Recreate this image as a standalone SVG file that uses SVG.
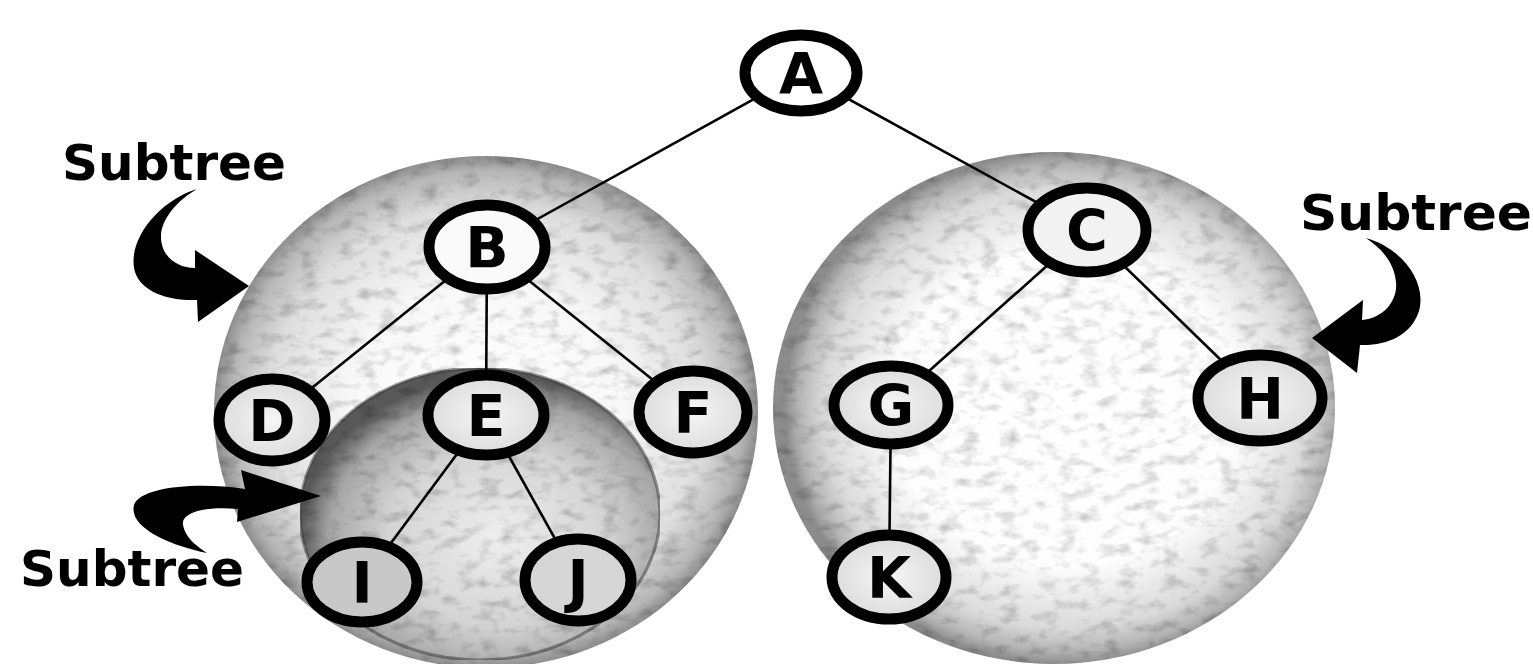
<svg xmlns="http://www.w3.org/2000/svg" width="1533" height="664" viewBox="0 0 1533 664">
<style>
.node ellipse{stroke:#000;stroke-width:11}
.node text{font-family:"DejaVu Sans","Liberation Sans",sans-serif;font-weight:bold;font-size:57px;text-anchor:middle;fill:#000}
.lbl{font-family:"DejaVu Sans","Liberation Sans",sans-serif;font-weight:bold;font-size:50px;fill:#000}
.edge{stroke:#000;stroke-width:2.6;fill:none}
.arrow{fill:#000}
</style>
<defs>
<radialGradient id="gBig" cx="50%" cy="50%" r="50%">
<stop offset="0" stop-color="#ffffff"/>
<stop offset="0.5" stop-color="#f8f8f8"/>
<stop offset="0.8" stop-color="#dedede"/>
<stop offset="0.94" stop-color="#b6b6b6"/>
<stop offset="1" stop-color="#8e8e8e"/>
</radialGradient>
<radialGradient id="gRight" cx="52%" cy="50%" r="50%">
<stop offset="0" stop-color="#ffffff"/>
<stop offset="0.62" stop-color="#fdfdfd"/>
<stop offset="0.86" stop-color="#dadada"/>
<stop offset="0.95" stop-color="#b4b4b4"/>
<stop offset="1" stop-color="#8c8c8c"/>
</radialGradient>
<radialGradient id="gInner" cx="55%" cy="58%" r="55%">
<stop offset="0" stop-color="#efefef"/>
<stop offset="0.55" stop-color="#d4d4d4"/>
<stop offset="0.85" stop-color="#a6a6a6"/>
<stop offset="1" stop-color="#585858"/>
</radialGradient>
<radialGradient id="gNode" cx="50%" cy="50%" r="50%">
<stop offset="0" stop-color="#f6f6f6"/>
<stop offset="1" stop-color="#dcdcdc"/>
</radialGradient>
<filter id="mottle" x="0" y="0" width="100%" height="100%">
<feTurbulence type="fractalNoise" baseFrequency="0.05 0.09" numOctaves="3" seed="4" result="n"/>
<feColorMatrix in="n" type="matrix" values="0 0 0 0 0  0 0 0 0 0  0 0 0 0 0  1.0 0 0 0 -0.48" result="dark"/>
<feComposite in="dark" in2="SourceGraphic" operator="in" result="d2"/>
<feMerge><feMergeNode in="SourceGraphic"/><feMergeNode in="d2"/></feMerge>
</filter>
</defs>
<rect width="1533" height="664" fill="#fff"/>

<g id="subtree-regions">
<ellipse id="region-B" cx="486" cy="412" rx="272" ry="256" fill="url(#gBig)" filter="url(#mottle)"/>
<ellipse id="region-C" cx="1054" cy="408" rx="281" ry="256" fill="url(#gRight)" filter="url(#mottle)"/>
<ellipse id="region-E" cx="480" cy="514" rx="180" ry="146" fill="url(#gInner)" stroke="#3a3a3a" stroke-width="3" stroke-opacity="0.5" filter="url(#mottle)"/>
</g>

<g id="connectors">
<line class="edge" x1="801" y1="73" x2="487" y2="247" stroke-width="2"/>
<line class="edge" x1="801" y1="73" x2="1087" y2="230"/>
<line class="edge" x1="487" y1="247" x2="272" y2="420" stroke-width="2"/>
<line class="edge" x1="487" y1="247" x2="486" y2="415" stroke-width="3"/>
<line class="edge" x1="487" y1="247" x2="693" y2="412"/>
<line class="edge" x1="1087" y1="230" x2="891" y2="405" stroke-width="2"/>
<line class="edge" x1="1087" y1="230" x2="1260" y2="398"/>
<line class="edge" x1="486" y1="415" x2="362" y2="582" stroke-width="2"/>
<line class="edge" x1="486" y1="415" x2="578" y2="580"/>
<line class="edge" x1="891" y1="405" x2="889" y2="577" stroke-width="3"/>
</g>

<g id="node-A" class="node"><ellipse cx="801" cy="73" rx="56" ry="38" fill="#fff"/><text x="801" y="94">A</text></g>
<g id="node-B" class="node"><ellipse cx="487" cy="247" rx="58" ry="42" fill="#fafafa"/><text x="487" y="268">B</text></g>
<g id="node-C" class="node"><ellipse cx="1087" cy="230" rx="59" ry="42" fill="#f2f2f2"/><text x="1087" y="251">C</text></g>
<g id="node-D" class="node"><ellipse cx="272" cy="420" rx="53" ry="41" fill="url(#gNode)"/><text x="272" y="441">D</text></g>
<g id="node-E" class="node"><ellipse cx="486" cy="415" rx="58" ry="40" fill="url(#gNode)"/><text x="486" y="436">E</text></g>
<g id="node-F" class="node"><ellipse cx="693" cy="412" rx="54" ry="41" fill="url(#gNode)"/><text x="693" y="433">F</text></g>
<g id="node-G" class="node"><ellipse cx="891" cy="405" rx="57" ry="39" fill="url(#gNode)"/><text x="891" y="426">G</text></g>
<g id="node-H" class="node"><ellipse cx="1260" cy="398" rx="62" ry="43" fill="url(#gNode)"/><text x="1260" y="419">H</text></g>
<g id="node-I" class="node"><ellipse cx="362" cy="582" rx="55" ry="40" fill="#c8c8c8"/><text x="362" y="603">I</text></g>
<g id="node-J" class="node"><ellipse cx="578" cy="580" rx="53" ry="41" fill="#d6d6d6"/><text x="578" y="601">J</text></g>
<g id="node-K" class="node"><ellipse cx="889" cy="577" rx="57" ry="42" fill="url(#gNode)"/><text x="889" y="598">K</text></g>

<g id="label-left-top">
<text class="lbl" x="62" y="180" textLength="224" lengthAdjust="spacingAndGlyphs">Subtree</text>
<path class="arrow" d="M197,189 C160,200 126,240 135,272 C142,293 170,301 197,300 L198,322 L249,286 L195,250 L195,268 C176,268 160,255 161,235 C162,218 178,200 197,189 Z"/>
</g>
<g id="label-right">
<text class="lbl" x="1300" y="230" textLength="232" lengthAdjust="spacingAndGlyphs">Subtree</text>
<path class="arrow" d="M1366,238 C1402,248 1427,282 1419,311 C1411,336 1386,346 1360,345 L1357,373 L1312,338 L1363,300 L1362,320 C1384,318 1398,300 1396,282 C1394,262 1381,248 1366,238 Z"/>
</g>
<g id="label-left-bottom">
<text class="lbl" x="20" y="586" textLength="224" lengthAdjust="spacingAndGlyphs">Subtree</text>
<path class="arrow" d="M207,553 C172,546 128,528 134,505 C141,486 200,482 245,489 L241,470 L321,496 L237,522 L238,509 C206,506 181,512 183,525 C185,537 196,546 207,553 Z"/>
</g>
</svg>
